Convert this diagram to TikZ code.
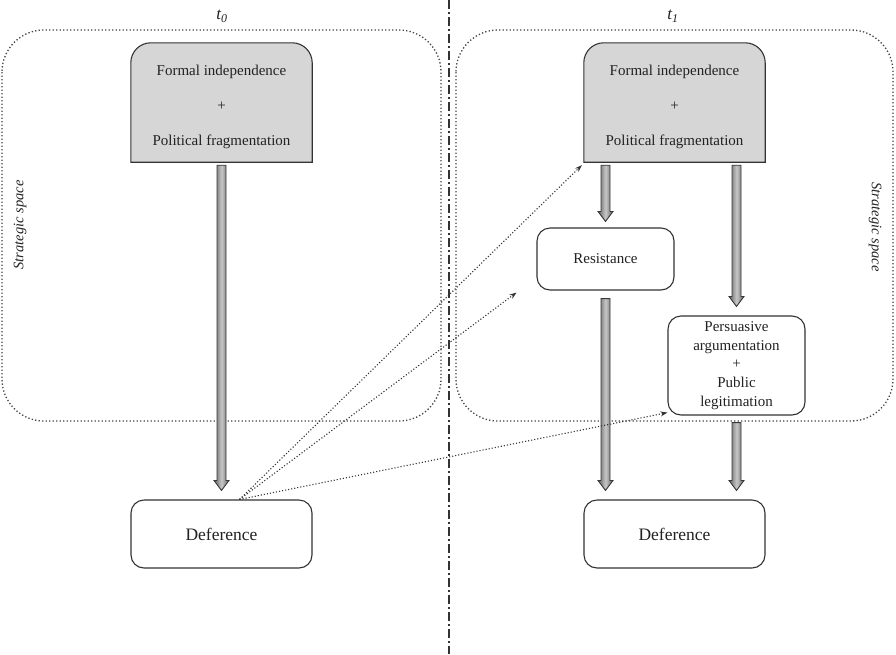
\documentclass[tikz,border=0pt]{standalone}
\usepackage{fontspec}
\setmainfont{Liberation Serif}
\usetikzlibrary{calc,arrows.meta}
\definecolor{ink}{HTML}{222222}
\definecolor{edge}{HTML}{333333}
\definecolor{boxgray}{HTML}{D6D6D6}
\definecolor{dotgray}{HTML}{444444}
\tikzset{
  stratframe/.style={draw=dotgray, line width=1.3pt, dash pattern=on 1.3pt off 2.2pt, rounded corners=42pt},
  geombox/.style={rectangle, inner sep=0pt, minimum width=181pt, minimum height=119pt},
  topbox/.style={draw=edge, line width=1.1pt, fill=boxgray},
  toptext/.style={text=ink, align=center, inner sep=0pt, font=\fontsize{15}{35}\selectfont},
  roundbox/.style={draw=edge, line width=1.1pt, rounded corners=13pt, fill=white, text=ink, align=center, inner sep=0pt, font=\fontsize{15}{18.7}\selectfont},
  bigarr/.style={draw=black!78, line width=0.9pt, left color=black!62, right color=black!62, middle color=black!22},
  dotarr/.style={draw=edge, line width=1.1pt, dash pattern=on 1.1pt off 2pt, -{Stealth[length=7pt,width=5pt]}},
  timelabel/.style={text=ink, font=\fontsize{17}{20}\selectfont\itshape},
  sslabel/.style={text=ink, font=\fontsize{14.5}{17}\selectfont\itshape},
}
\newcommand\bigarrow[2]{%
  \path[bigarr] let \p1=(#1), \p2=(#2) in
    (\x1-4.5pt,\y1) -- (\x1+4.5pt,\y1) -- (\x1+4.5pt,\y2+10pt) -- (\x1+7.5pt,\y2+10pt)
    -- (\x1,\y2) -- (\x1-7.5pt,\y2+10pt) -- (\x1-4.5pt,\y2+10pt) -- cycle;}
\begin{document}
\begin{tikzpicture}[x=1pt,y=-1pt]
\useasboundingbox (0,0) rectangle (896,654);
\fill[white] (0,0) rectangle (896,654);

% divider
\coordinate (divtop) at (449,0);
\coordinate (divbot) at (449,654);
\draw[edge, line width=1.3pt, dash pattern=on 9pt off 3pt on 2pt off 3pt] (divtop) -- (divbot);

% strategic spaces
\draw[stratframe] (2,30) rectangle (441,421);
\draw[stratframe] (456,30) rectangle (893,421);

% time labels
\node[timelabel] (tl0) at (222,16) {t\textsubscript{0}};
\node[timelabel] (tl1) at (673,16) {t\textsubscript{1}};

% strategic space labels
\node[sslabel, rotate=90] (ss0) at (20,225) {Strategic space};
\node[sslabel, rotate=-90] (ss1) at (875,227) {Strategic space};

% top boxes
\node[geombox] (t0) at (221.5,102.5) {};
\filldraw[topbox] (t0.south west) -- ([yshift=-20pt]t0.north west) arc[start angle=180,end angle=90,radius=20pt]
  -- ([xshift=-20pt]t0.north east) arc[start angle=90,end angle=0,radius=20pt] -- (t0.south east) -- cycle;
\node[toptext] (t0txt) at ([yshift=-4.5pt]t0.center) {Formal independence\\+\\Political fragmentation};

\node[geombox] (t1) at (674.5,102.5) {};
\filldraw[topbox] (t1.south west) -- ([yshift=-20pt]t1.north west) arc[start angle=180,end angle=90,radius=20pt]
  -- ([xshift=-20pt]t1.north east) arc[start angle=90,end angle=0,radius=20pt] -- (t1.south east) -- cycle;
\node[toptext] (t1txt) at ([yshift=-4.5pt]t1.center) {Formal independence\\+\\Political fragmentation};

% other boxes
\node[roundbox, minimum width=181pt, minimum height=68pt, font=\fontsize{17.5}{20}\selectfont] (d0) at (221.5,534) {Deference};
\node[roundbox, minimum width=181pt, minimum height=68pt, font=\fontsize{17.5}{20}\selectfont] (d1) at (674.5,534) {Deference};
\node[roundbox, minimum width=137pt, minimum height=62pt] (r) at (605.5,259) {Resistance};
\node[roundbox, minimum width=137pt, minimum height=99pt] (p) at (736.5,365.5) {Persuasive\\argumentation\\+\\Public\\legitimation};

% big arrows
\bigarrow{$(t0.south)+(0,3)$}{$(d0.north)+(0,-9)$}
\bigarrow{$(r.center |- t1.south)+(0,3)$}{$(r.north)+(0,-6)$}
\bigarrow{$(p.center |- t1.south)+(0,3)$}{$(p.north)+(0,-9)$}
\bigarrow{$(r.south)+(0,8)$}{$(r.center |- d1.north)+(0,-9)$}
\bigarrow{$(p.south)+(0,7)$}{$(p.center |- d1.north)+(0,-9)$}

% dotted arrows
\coordinate (src) at ([xshift=18pt]d0.north);
\coordinate (e1) at ([shift={(-2pt,-3pt)}]t1.south west);
\coordinate (e2) at ([shift={(-20pt,-2pt)}]r.south west);
\coordinate (e3) at ([shift={(0pt,3pt)}]p.south west);
\draw[dotarr] (src) -- (e1);
\draw[dotarr] (src) -- (e2);
\draw[dotarr] (src) -- (e3);
\end{tikzpicture}
\end{document}
